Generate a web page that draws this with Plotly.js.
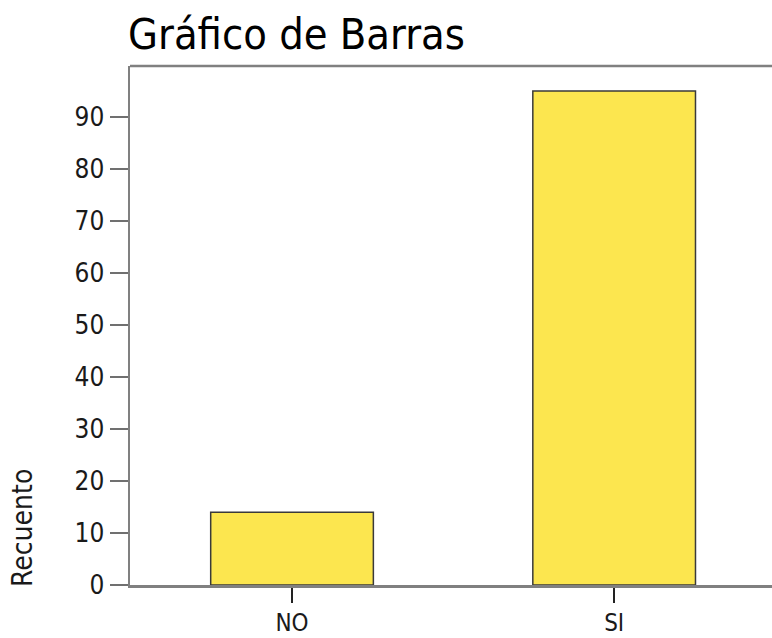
<!DOCTYPE html>
<html><head><meta charset="utf-8">
<script src="https://cdn.plot.ly/plotly-3.0.1.min.js"></script>
<style>html,body{margin:0;padding:0;background:#fff}</style>
</head><body>
<div id="chart" style="width:772px;height:638px"></div>
<script>
const categories = ["NO", "SI"];
const counts = [14, 95];
const yTicks = [0, 10, 20, 30, 40, 50, 60, 70, 80, 90];

const fontFam = "DejaVu Sans Condensed, DejaVu Sans, sans-serif";
const trace = {
  type: "bar",
  x: categories,
  y: counts,
  width: 0.505,
  marker: {color: "#FCE64F", line: {color: "#3a3a3a", width: 1.5}},
  hoverinfo: "x+y"
};
const layout = {
  width: 772, height: 638,
  margin: {l: 130, r: 0, t: 66, b: 53, pad: 0},
  paper_bgcolor: "#fff", plot_bgcolor: "#fff",
  showlegend: false,
  font: {family: fontFam, color: "#1a1a1a"},
  title: {text: "Gráfico de Barras", x: 128/772, xanchor: "left", xref: "container",
          y: 1 - 34/638, yanchor: "middle", yref: "container",
          font: {family: fontFam, size: 43, color: "#000"}},
  xaxis: {
    type: "category", range: [-0.503, 1.49],
    showline: true, linecolor: "#808080", linewidth: 2.5,
    ticks: "outside", ticklen: 15, tickcolor: "#222", tickwidth: 1.5,
    showgrid: false, zeroline: false,
    tickfont: {family: fontFam, size: 24, color: "#1a1a1a"}
  },
  yaxis: {
    range: [0, 99.8], tickvals: yTicks, ticktext: yTicks.map(String),
    showline: true, linecolor: "#808080", linewidth: 2.5,
    ticks: "outside", ticklen: 18, tickcolor: "#707070", tickwidth: 2,
    showgrid: false, zeroline: false,
    tickfont: {family: fontFam, size: 26, color: "#1a1a1a"}
  },
  shapes: [{type: "line", xref: "paper", yref: "paper", x0: 0, x1: 1, y0: 1, y1: 1,
            line: {color: "#808080", width: 2.5}}],
  annotations: [{text: "Recuento", xref: "paper", yref: "y", x: -108/642, y: 0, yshift: -4,
                 xanchor: "center", yanchor: "bottom", textangle: -90, showarrow: false,
                 font: {family: fontFam, size: 28, color: "#1a1a1a"}}]
};
Plotly.newPlot("chart", [trace], layout, {displayModeBar: false, staticPlot: true});
</script>
</body></html>
